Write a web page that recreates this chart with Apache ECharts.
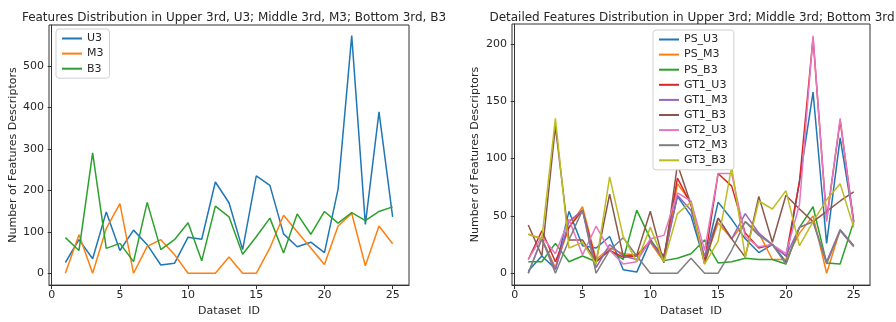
<!DOCTYPE html>
<html><head><meta charset="utf-8">
<script src="https://cdn.jsdelivr.net/npm/echarts@6/dist/echarts.min.js"></script>
<style>html,body{margin:0;padding:0;background:#fff}#c{width:896px;height:322px}</style>
</head><body><div id="c"></div>
<script>
const datasetIds = [1,2,3,4,5,6,7,8,9,10,11,12,13,14,15,16,17,18,19,20,21,22,23,24,25];
const xTicks = [0,5,10,15,20,25];
const leftYTicks = [0,100,200,300,400,500];
const rightYTicks = [0,50,100,150,200];

const U3 = [26,81,35,148,55,104,69,20,24,87,82,220,170,57,235,212,95,64,75,50,203,573,118,389,136];
const M3 = [0,93,0,108,168,0,65,81,45,0,0,0,39,0,0,61,140,100,61,21,114,144,18,114,71];
const B3 = [86,55,290,60,72,28,171,57,81,122,30,162,136,46,88,133,49,143,94,149,121,146,127,149,160];

const PS_U3 = [2,15,4,54,24,22,32,3,1,28,15,67,50,10,62,47,30,18,25,10,80,158,26,118,45];
const PS_M3 = [34,30,5,40,58,12,22,17,16,27,10,78,62,10,44,30,45,35,12,12,35,50,0,38,24];
const PS_B3 = [10,10,26,10,15,10,20,12,55,30,11,13,17,29,9,10,13,12,12,8,40,58,9,8,45];
const GT1_U3 = [12,37,10,40,55,10,20,14,15,28,14,83,60,10,87,76,35,22,25,15,80,205,47,133,45];
const GT1_M3 = [0,30,3,45,55,5,25,15,12,28,12,68,55,15,48,30,52,35,25,15,40,45,10,38,24];
const GT1_B3 = [42,15,128,29,29,10,69,15,16,54,9,95,60,8,48,30,14,67,27,68,56,45,54,63,71];
const GT2_U3 = [12,32,17,47,16,41,20,8,10,30,33,70,63,20,87,87,32,23,25,17,60,207,45,135,42];
const GT2_M3 = [0,30,0,29,55,0,20,31,15,0,0,0,13,0,0,20,45,33,25,8,40,45,8,37,23];
const GT3_B3 = [34,30,135,22,27,8,84,32,10,40,10,52,62,8,28,93,14,63,56,72,24,45,64,78,40];

const leftNames = ['U3','M3','B3'];
const leftData = [U3,M3,B3];
const rightNames = ['PS_U3','PS_M3','PS_B3','GT1_U3','GT1_M3','GT1_B3','GT2_U3','GT2_M3','GT3_B3'];
const rightData = [PS_U3,PS_M3,PS_B3,GT1_U3,GT1_M3,GT1_B3,GT2_U3,GT2_M3,GT3_B3];
const colors = ['#1f77b4','#ff7f0e','#2ca02c','#d62728','#9467bd','#8c564b','#e377c2','#7f7f7f','#bcbd22'];

const FONT = 'DejaVu Sans';
const txt = '#262626';
function xAxis(idx){
  return {type:'value', gridIndex:idx, min:-0.2, max:26.2,
    name:'Dataset  ID', nameLocation:'middle', nameGap:18,
    nameTextStyle:{fontFamily:FONT,fontSize:11,color:txt},
    axisLine:{show:true,onZero:false,lineStyle:{color:'#333',width:1}},
    axisTick:{show:true,length:4,customValues:xTicks,lineStyle:{color:'#333'}},
    axisLabel:{customValues:xTicks,fontFamily:FONT,fontSize:11,color:txt,margin:5},
    splitLine:{show:false}};
}
function yAxis(idx,min,max,ticks){
  return {type:'value', gridIndex:idx, min:min, max:max,
    name:'Number of Features Descriptors', nameLocation:'middle', nameGap:idx===0?30:31,
    nameTextStyle:{fontFamily:FONT,fontSize:11,color:txt},
    axisLine:{show:true,lineStyle:{color:'#333',width:1}},
    axisTick:{show:true,length:4,customValues:ticks,lineStyle:{color:'#333'}},
    axisLabel:{customValues:ticks,fontFamily:FONT,fontSize:11,color:txt,margin:5},
    splitLine:{show:false}};
}
const series = [];
leftNames.forEach((n,i)=>series.push({name:n,type:'line',xAxisIndex:0,yAxisIndex:0,
  data:datasetIds.map((d,j)=>[d,leftData[i][j]]),showSymbol:false,symbol:'none',
  lineStyle:{width:1.5,color:colors[i]},itemStyle:{color:colors[i]},animation:false}));
rightNames.forEach((n,i)=>series.push({name:n,type:'line',xAxisIndex:1,yAxisIndex:1,
  data:datasetIds.map((d,j)=>[d,rightData[i][j]]),showSymbol:false,symbol:'none',
  lineStyle:{width:1.5,color:colors[i]},itemStyle:{color:colors[i]},animation:false}));

const legendCommon = {orient:'vertical', icon:'rect', itemWidth:20, itemHeight:2, itemGap:4.1,
  backgroundColor:'#fff', borderColor:'#d0d0d0', borderWidth:1, borderRadius:3,
  padding:[4,6,4,6], textStyle:{fontFamily:FONT,fontSize:11,color:txt}};

const chart = echarts.init(document.getElementById('c'),null,{renderer:'canvas'});
chart.setOption({
  animation:false,
  backgroundColor:'#fff',
  title:[
    {text:'Features Distribution in Upper 3rd, U3; Middle 3rd, M3; Bottom 3rd, B3', left:229, top:7, textAlign:'center',
     textStyle:{fontFamily:FONT,fontSize:12,fontWeight:'normal',color:txt}},
    {text:'Detailed Features Distribution in Upper 3rd; Middle 3rd; Bottom 3rd', left:687, top:7, textAlign:'center',
     textStyle:{fontFamily:FONT,fontSize:12,fontWeight:'normal',color:txt}}
  ],
  grid:[
    {left:49, top:25, width:360, height:267, show:true, borderColor:'#333', borderWidth:1, backgroundColor:'transparent'},
    {left:512, top:24, width:358, height:268, show:true, borderColor:'#333', borderWidth:1, backgroundColor:'transparent'}
  ],
  xAxis:[xAxis(0), xAxis(1)],
  yAxis:[yAxis(0,-28.5,598.5,leftYTicks), yAxis(1,-10.35,217.35,rightYTicks)],
  legend:[
    Object.assign({data:leftNames, left:56, top:29}, legendCommon),
    Object.assign({data:rightNames, left:653, top:30}, legendCommon)
  ],
  series:series
});
</script></body></html>
